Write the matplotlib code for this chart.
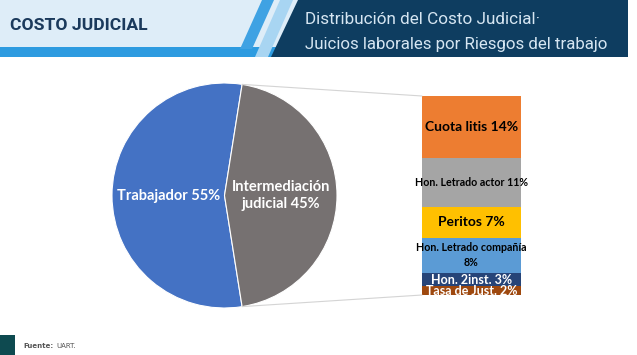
import matplotlib
matplotlib.use('Agg')
import matplotlib.pyplot as plt
from matplotlib.patches import Polygon, Rectangle, ConnectionPatch
from math import cos, sin, radians

# Pie: main split of the judicial cost
pie_labels = ['Trabajador 55%', 'Intermediación\njudicial 45%']
pie_values = [55, 45]
pie_colors = ['#4472C4', '#767171']

# Bar: breakdown of the "Intermediación judicial" share (top to bottom)
bar_labels = ['Cuota litis 14%', 'Hon. Letrado actor 11%', 'Peritos 7%',
              'Hon. Letrado compañía\n8%', 'Hon. 2inst. 3%', 'Tasa de Just. 2%']
bar_values = [14, 11, 7, 8, 3, 2]
bar_colors = ['#ED7D31', '#A5A5A5', '#FFC000', '#5B9BD5', '#264478', '#9E480E']
bar_fsize = [10, 7.7, 10, 7.7, 9, 9]

title_left = 'COSTO JUDICIAL'
title_right = ['Distribución del Costo Judicial·', 'Juicios laborales por Riesgos del trabajo']
source = 'UART.'

W, H = 637, 355
fig = plt.figure(figsize=(W / 100, H / 100), dpi=100)

# background layer in pixel coords
bg = fig.add_axes([0, 0, 1, 1])
bg.set_xlim(0, W)
bg.set_ylim(H, 0)
bg.axis('off')

# header band
bg.add_patch(Rectangle((0, 0), 300, 47, color='#deedf8', lw=0))
bg.add_patch(Rectangle((0, 47), 280, 10, color='#2d9be0', lw=0))
bg.add_patch(Polygon([(262, 0), (274, 0), (252, 49), (240, 49)], closed=True, color='#3fa2e3', lw=0))
bg.add_patch(Polygon([(280, 0), (293, 0), (268, 57), (255, 57)], closed=True, color='#a8d5f2', lw=0))
bg.add_patch(Polygon([(298, 0), (628, 0), (628, 57), (271, 57)], closed=True, color='#0e3d60', lw=0))

bg.text(10, 26, title_left, fontsize=12.6, fontweight='bold', color='#1b3a5c',
        family='Roboto', va='center', ha='left')
bg.text(305, 19, title_right[0], fontsize=12.3, color='#d6e6f2',
        family='Roboto', va='center', ha='left')
bg.text(305, 44, title_right[1], fontsize=12.2, color='#d6e6f2',
        family='Roboto', va='center', ha='left')

# footer
bg.add_patch(Rectangle((0, 335), 15, 20, color='#0e4a50', lw=0))
t = bg.text(23, 346, 'Fuente:', fontsize=5, fontweight='bold', color='#555555', va='center', ha='left')
bg.annotate(source, xy=(1, 0.5), xycoords=t, xytext=(2, 0), textcoords='offset points',
            fontsize=5, color='#555555', va='center', ha='left')

# pie
pax = fig.add_axes([112 / W, (H - 308) / H, 225 / W, 225 / H])
half = pie_values[1] / sum(pie_values) * 180
wedges, texts = pax.pie(pie_values, labels=pie_labels, colors=pie_colors,
                        startangle=half, counterclock=True, labeldistance=0.5,
                        wedgeprops=dict(edgecolor='white', linewidth=0.8),
                        textprops=dict(ha='center', va='center', color='white',
                                       fontweight='bold', family='Lato', fontsize=10.5))
pax.set_xlim(-1, 1)
pax.set_ylim(-1, 1)
pax.set_aspect('equal')

# stacked bar
bax = fig.add_axes([422 / W, (H - 295) / H, 99 / W, 199 / H])
total = sum(bar_values)
bottom = 0
for lab, v, c, fs in zip(bar_labels, bar_values, bar_colors, bar_fsize):
    bax.bar(0, v, bottom=bottom, width=1, color=c, lw=0)
    dark = c in ('#264478', '#9E480E')
    bax.text(0, bottom + v / 2, lab, ha='center', va='center', fontsize=fs,
             fontweight='bold', family='Lato', color='white' if dark else 'black',
             clip_on=dark, linespacing=1.5)
    bottom += v
bax.set_xlim(-0.5, 0.5)
bax.set_ylim(total, 0)
bax.axis('off')

# connector lines from the pie slice to the bar
for sgn, yb in ((1, 0), (-1, total)):
    p = (cos(radians(sgn * half)), sin(radians(sgn * half)))
    con = ConnectionPatch(xyA=p, coordsA=pax.transData, xyB=(-0.5, yb), coordsB=bax.transData,
                          color='#d4d4d4', lw=0.8)
    fig.add_artist(con)

fig.savefig('out.png', dpi=100)
